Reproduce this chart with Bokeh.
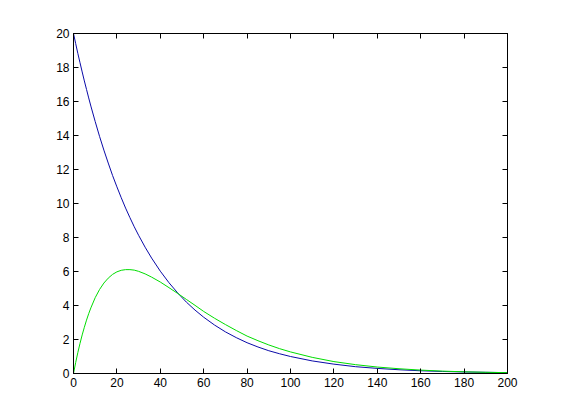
from bokeh.plotting import figure
from bokeh.models import LinearAxis, FixedTicker, Range1d
from bokeh.embed import file_html
from bokeh.resources import INLINE

t = [0, 1, 2, 3, 4, 5, 6, 7, 8, 10, 12, 14, 16, 18, 20, 22, 24, 26, 28, 30, 33, 36, 40, 44,
     48, 52, 56, 60, 65, 70, 75, 80, 85, 90, 95, 100, 110, 120, 130, 140, 150, 160, 170,
     180, 190, 200]
blue_vals = [20.0, 19.41, 18.83, 18.28, 17.74, 17.21, 16.71, 16.21, 15.73, 14.82, 13.95,
             13.14, 12.38, 11.65, 10.98, 10.34, 9.73, 9.17, 8.63, 8.13, 7.43, 6.79, 6.02,
             5.34, 4.74, 4.20, 3.73, 3.31, 2.85, 2.45, 2.11, 1.81, 1.56, 1.34, 1.16, 1.00,
             0.74, 0.55, 0.40, 0.30, 0.22, 0.16, 0.12, 0.09, 0.07, 0.05]
green_vals = [0.0, 0.64, 1.23, 1.77, 2.27, 2.72, 3.14, 3.52, 3.86, 4.46, 4.94, 5.32, 5.61,
              5.83, 5.98, 6.07, 6.11, 6.11, 6.08, 6.01, 5.86, 5.67, 5.38, 5.05, 4.71, 4.36,
              4.01, 3.65, 3.25, 2.88, 2.53, 2.20, 1.93, 1.68, 1.46, 1.27, 0.95, 0.70, 0.52,
              0.38, 0.28, 0.20, 0.14, 0.10, 0.07, 0.05]
x_ticks = [0, 20, 40, 60, 80, 100, 120, 140, 160, 180, 200]
y_ticks = [0, 2, 4, 6, 8, 10, 12, 14, 16, 18, 20]

FONT = "Liberation Sans"

p = figure(frame_width=434, frame_height=340, min_border_left=73, min_border_right=38,
           min_border_top=33, min_border_bottom=31, output_backend="svg",
           toolbar_location=None, x_range=Range1d(0, 200), y_range=Range1d(0, 20),
           x_axis_location=None, y_axis_location=None)
p.background_fill_color = "white"
p.border_fill_color = "white"
p.outline_line_color = "black"
p.outline_line_width = 1
p.grid.visible = False

def style(ax, labels=True, ticks=None):
    ax.ticker = FixedTicker(ticks=ticks)
    ax.axis_line_color = "black"
    ax.axis_line_width = 1
    ax.major_tick_in = 5
    ax.major_tick_out = 0
    ax.major_tick_line_color = "black"
    ax.minor_tick_line_color = None
    ax.major_label_text_font = FONT
    ax.major_label_text_font_size = "12px"
    ax.major_label_text_color = "black"
    ax.major_label_standoff = 4
    if not labels:
        ax.major_label_text_font_size = "0px"
        ax.major_label_text_alpha = 0
    return ax

p.add_layout(style(LinearAxis(), True, x_ticks), "below")
p.add_layout(style(LinearAxis(), True, y_ticks), "left")
p.add_layout(style(LinearAxis(), False, x_ticks), "above")
p.add_layout(style(LinearAxis(), False, y_ticks), "right")

p.line(t, blue_vals, line_color="#0a0aa8", line_width=1)
p.line(t, green_vals, line_color="#00dd00", line_width=1)

open("out.html", "w").write(file_html(p, INLINE))
